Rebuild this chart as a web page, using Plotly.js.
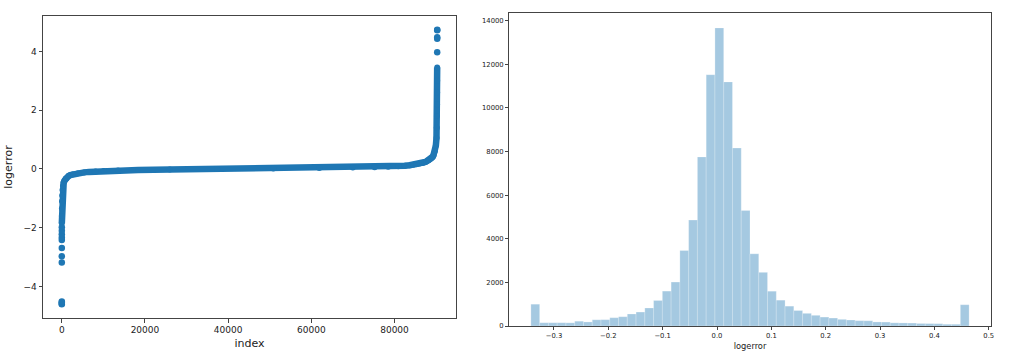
<!DOCTYPE html>
<html>
<head>
<meta charset="utf-8">
<script src="https://cdn.plot.ly/plotly-3.0.1.min.js"></script>
<style>html,body{margin:0;padding:0;background:#fff;}#chart{width:1018px;height:362px;}</style>
</head>
<body>
<div id="chart"></div>
<script>
// ---- Left panel: sorted logerror vs index ----
// isolated extreme points
const tailIdx = [0, 1, 2, 3, 4, 5, 6, 7, 8, 9, 10, 11, 90266, 90268, 90270, 90272, 90274];
const tailVal = [-4.605, -4.59, -4.54, -4.51, -3.18, -2.97, -2.69, -2.42, -2.33, -2.22, -2.10, -1.98, 3.97, 4.43, 4.48, 4.72, 4.737];
// continuous band
const curveIdx = [12, 20, 35, 60, 100, 170, 280, 450, 650, 890, 1000, 1140, 1600, 2070, 2730, 3930, 5380, 6540, 8120, 10100, 13530, 18330, 25980, 37360, 50860, 61920, 69980, 75220, 78490, 80920, 82490, 83660, 84560, 85260, 85840, 86330, 86730, 87090, 87390, 87660, 88140, 88490, 88770, 88990, 89190, 89370, 89700, 89950, 90100, 90170, 90210, 90235, 90250, 90258, 90263];
const curveVal = [-1.85, -1.6, -1.35, -1.1, -0.9, -0.72, -0.58, -0.47, -0.40, -0.3425, -0.33, -0.31, -0.245, -0.21, -0.18, -0.149, -0.117, -0.10, -0.085, -0.068, -0.052, -0.036, -0.02, -0.004, 0.012, 0.029, 0.045, 0.061, 0.077, 0.093, 0.109, 0.125, 0.141, 0.157, 0.174, 0.19, 0.206, 0.222, 0.238, 0.254, 0.287, 0.319, 0.351, 0.384, 0.416, 0.464, 0.6, 0.8, 1.05, 1.4, 1.8, 2.2, 2.6, 3.0, 3.45];
const leftXTicks = [0, 20000, 40000, 60000, 80000];
const leftYTicks = [-4, -2, 0, 2, 4];
const leftYTickText = ['\u22124', '\u22122', '0', '2', '4'];

// ---- Right panel: histogram of clipped logerror (50 bins) ----
const binStart = -0.3425;
const binWidth = 0.016128;
const binCounts = [1000, 150, 150, 150, 145, 220, 185, 285, 290, 380,
                   425, 550, 640, 825, 1170, 1600, 2015, 3460, 4855, 7750,
                   11520, 13665, 11190, 8160, 5300, 3310, 2460, 1595, 1185, 910,
                   710, 580, 490, 410, 365, 305, 275, 245, 240, 185,
                   180, 145, 140, 135, 115, 110, 105, 80, 80, 975];
const rightXTicks = [-0.3, -0.2, -0.1, 0.0, 0.1, 0.2, 0.3, 0.4, 0.5];
const rightXTickText = ['\u22120.3', '\u22120.2', '\u22120.1', '0.0', '0.1', '0.2', '0.3', '0.4', '0.5'];
const rightYTicks = [0, 2000, 4000, 6000, 8000, 10000, 12000, 14000];

const binCenters = binCounts.map((_, i) => binStart + (i + 0.5) * binWidth);

const blue = '#1f77b4';
const traces = [
  {
    type: 'scatter', mode: 'lines+markers', x: curveIdx, y: curveVal,
    line: {color: blue, width: 6.5}, marker: {color: blue, size: 6},
    xaxis: 'x', yaxis: 'y', hoverinfo: 'x+y', showlegend: false
  },
  {
    type: 'scatter', mode: 'markers', x: tailIdx, y: tailVal,
    marker: {color: blue, size: 6.5},
    xaxis: 'x', yaxis: 'y', showlegend: false
  },
  {
    type: 'bar', x: binCenters, y: binCounts, width: binWidth,
    marker: {color: 'rgba(31,119,180,0.4)', line: {color: 'rgba(255,255,255,0.4)', width: 0.6}},
    xaxis: 'x2', yaxis: 'y2', showlegend: false
  }
];

const W = 1018, H = 362;
const axBase = {
  showline: true, mirror: true, linecolor: '#444', linewidth: 1,
  ticks: 'outside', ticklen: 3.5, tickwidth: 1, tickcolor: '#444',
  showgrid: false, zeroline: false, automargin: false,
  tickfont: {family: 'DejaVu Sans', size: 9, color: '#222'}
};
const small = {family: 'DejaVu Sans', size: 6.8, color: '#222'};

const layout = {
  width: W, height: H,
  margin: {l: 0, r: 0, t: 0, b: 0},
  paper_bgcolor: '#fff', plot_bgcolor: '#fff',
  bargap: 0,
  xaxis: Object.assign({}, axBase, {
    domain: [43 / W, 456 / W], range: [-4514, 94789],
    tickmode: 'array', tickvals: leftXTicks, ticktext: leftXTicks.map(String),
    title: {text: 'index', font: {family: 'DejaVu Sans', size: 11, color: '#222'}, standoff: 5},
    anchor: 'y'
  }),
  yaxis: Object.assign({}, axBase, {
    domain: [1 - 318 / H, 1 - 16 / H], range: [-5.072, 5.204],
    tickmode: 'array', tickvals: leftYTicks, ticktext: leftYTickText,
    title: {text: 'logerror', font: {family: 'DejaVu Sans', size: 11, color: '#222'}, standoff: 8},
    anchor: 'x'
  }),
  xaxis2: Object.assign({}, axBase, {
    domain: [509 / W, 991 / W], range: [-0.3828, 0.5042],
    tickmode: 'array', tickvals: rightXTicks, ticktext: rightXTickText,
    tickfont: small, ticklen: 3,
    title: {text: 'logerror', font: {family: 'DejaVu Sans', size: 8.3, color: '#222'}, standoff: 4},
    anchor: 'y2'
  }),
  yaxis2: Object.assign({}, axBase, {
    domain: [1 - 326 / H, 1 - 13 / H], range: [0, 14348],
    tickmode: 'array', tickvals: rightYTicks, ticktext: rightYTicks.map(String),
    tickfont: small, ticklen: 3,
    anchor: 'x2'
  })
};

Plotly.newPlot('chart', traces, layout, {displayModeBar: false, staticPlot: true});
</script>
</body>
</html>
